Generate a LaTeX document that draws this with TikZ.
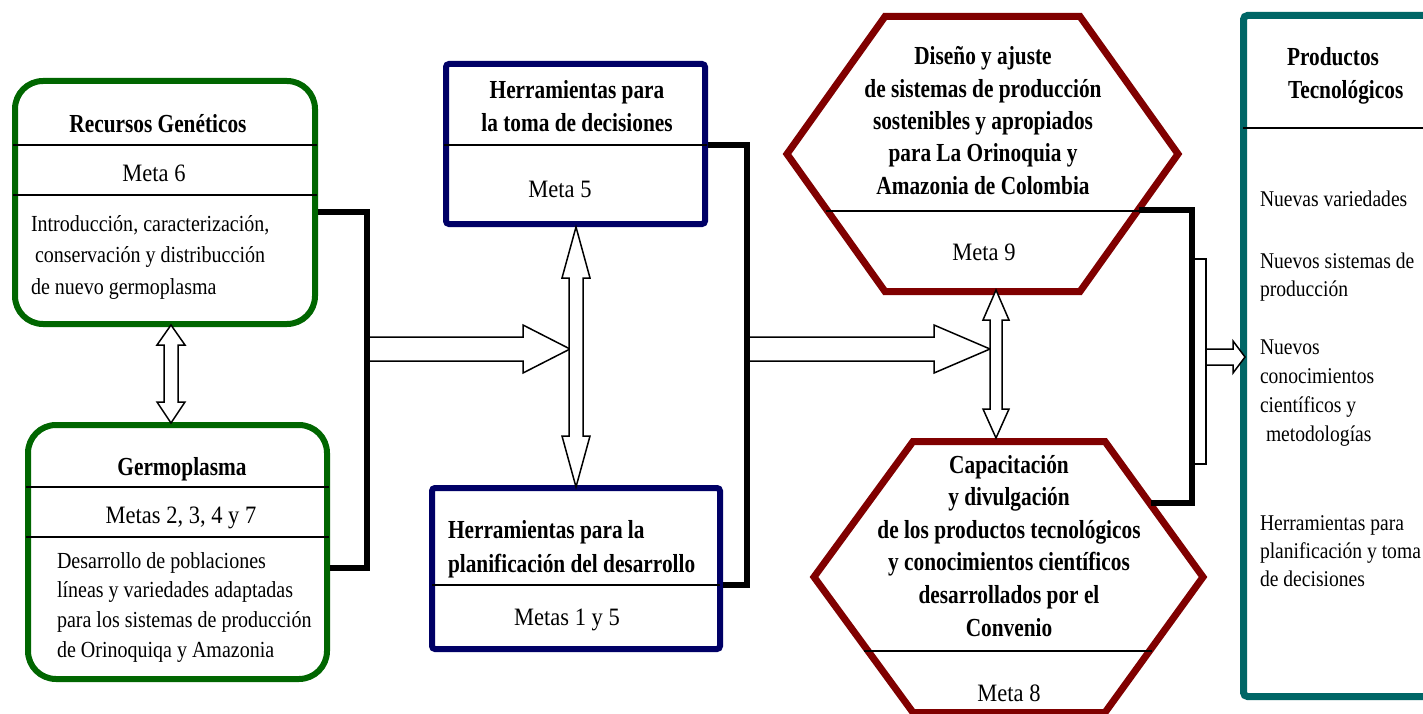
\documentclass[tikz,border=0pt]{standalone}
\usepackage{fontspec}
\setmainfont{Liberation Serif}
\newfontfamily\bodyff{Liberation Serif}[FakeStretch=0.87]
\newfontfamily\metaff{Liberation Serif}[FakeStretch=0.9]
\newfontfamily\titff{Liberation Serif}[FakeStretch=0.82]
\definecolor{boxgreen}{RGB}{0,102,0}
\definecolor{boxnavy}{RGB}{0,0,102}
\definecolor{boxred}{RGB}{128,0,0}
\definecolor{boxteal}{RGB}{0,102,102}
\newcommand{\cvl}[1]{\vtop{\halign{\hfil##\hfil\cr#1\crcr}}}
\newcommand{\lvl}[1]{\vtop{\halign{##\hfil\cr#1\crcr}}}
\tikzset{
  gbox/.style={draw=boxgreen, line width=6pt, rounded corners=28pt, inner sep=0pt},
  nbox/.style={draw=boxnavy, line width=6pt, rounded corners=3pt, inner sep=0pt},
  tbox/.style={draw=boxteal, line width=7pt, rounded corners=4pt, inner sep=0pt},
  hexline/.style={draw=boxred, line width=7pt, line join=miter},
  divider/.style={draw=black, line width=1.8pt},
  conn/.style={draw=black, line width=6.5pt, line join=miter},
  thinconn/.style={draw=black, line width=2pt},
  hollow/.style={draw=black, fill=white, line width=1.5pt, line join=miter},
  tit/.style={font=\titff\bfseries\fontsize{26}{32.5}\selectfont, inner sep=0pt, outer sep=0pt},
  meta/.style={font=\metaff\fontsize{25}{30}\selectfont, inner sep=0pt, outer sep=0pt},
  body/.style={font=\bodyff\fontsize{23}{31.5}\selectfont, inner sep=0pt, outer sep=0pt},
}
\begin{document}
\begin{tikzpicture}[x=1pt,y=-1pt]
\useasboundingbox (0,0) rectangle (1423,714);
\fill[white] (0,0) rectangle (1423,714);

% ---------- boxes ----------
\node[gbox, minimum width=300pt, minimum height=243pt] (rg) at (165,202.5) {};
\node[gbox, minimum width=299pt, minimum height=254pt] (gp) at (177.5,552) {};
\node[nbox, minimum width=259pt, minimum height=160pt] (ht) at (575.5,144) {};
\node[nbox, minimum width=288pt, minimum height=161pt] (hp) at (576,568.5) {};
\node[tbox, minimum width=206.5pt, minimum height=681pt] (pt) at (1346.75,356) {};

% hexagons
\draw[hexline] (787,154) -- (885,16.5) -- (1080,16.5) -- (1178,154) -- (1080,291.5) -- (885,291.5) -- cycle;
\draw[hexline] (814,577) -- (913,441.5) -- (1105,441.5) -- (1203,577) -- (1105,712.5) -- (913,712.5) -- cycle;

% ---------- dividers ----------
\draw[divider] (13,145) -- (317,145);
\draw[divider] (13,195) -- (317,195);
\draw[divider] (26,487) -- (329,487);
\draw[divider] (26,537) -- (329,537);
\draw[divider] (444,145) -- (707,145);
\draw[divider] (432,585) -- (720,585);
\draw[divider] (826,211) -- (1140,211);
\draw[divider] (864,651) -- (1152,651);
\draw[divider] (1243,128) -- (1423,128);

% ---------- hollow arrows ----------
\draw[hollow] (367,337) -- (523,337) -- (523,325) -- (570,349) -- (523,373) -- (523,361) -- (367,361) -- cycle;
\draw[hollow] (747,337) -- (934,337) -- (934,325) -- (990,349) -- (934,373) -- (934,361) -- (747,361) -- cycle;
\draw[hollow] (171,325) -- (185,345) -- (178,345) -- (178,402) -- (185,402) -- (171,423) -- (157,402) -- (164,402) -- (164,345) -- (157,345) -- cycle;
\draw[hollow] (576,227) -- (590,278) -- (583,278) -- (583,436) -- (590,436) -- (576,487) -- (562,436) -- (569,436) -- (569,278) -- (562,278) -- cycle;
\draw[hollow] (996,290) -- (1009,320) -- (1002,320) -- (1002,409) -- (1009,409) -- (996,438) -- (983,409) -- (990,409) -- (990,320) -- (983,320) -- cycle;
\draw[hollow] (1206,349) -- (1233,349) -- (1233,341) -- (1245,357) -- (1233,373) -- (1233,365) -- (1206,365) -- cycle;

% ---------- thick connectors ----------
\coordinate (j1a) at (367,212);
\coordinate (j1b) at (367,568);
\draw[conn] (rg.east |- j1a) -- (j1a) -- (j1b) -- (gp.east |- j1b);
\coordinate (j2a) at (747,145);
\coordinate (j2b) at (747,585);
\draw[conn] (ht.east |- j2a) -- (j2a) -- (j2b) -- (hp.east |- j2b);
\coordinate (h1r) at (1139,210);
\coordinate (h2r) at (1151,503);
\coordinate (j3a) at (1192,210);
\coordinate (j3b) at (1192,503);
\draw[conn] (h1r) -- (j3a) -- (j3b) -- (h2r);
\coordinate (br1) at (1192,259);
\coordinate (br2) at (1192,464);
\draw[thinconn] (br1) -- (1206,259) -- (1206,464) -- (br2);

% ---------- texts ----------
\node[tit, anchor=base] (t1) at (158,133) {Recursos Genéticos};
\node[meta, anchor=base] (m1) at (154,182) {Meta 6};
\node[body, anchor=base west] (b1) at (31,231) {\lvl{Introducción, caracterización,\cr\kern4pt conservación y distribucción\cr de nuevo germoplasma}};

\node[tit, anchor=base] (t2) at (182,475) {Germoplasma};
\node[meta, anchor=base] (m2) at (181,523) {Metas 2, 3, 4 y 7};
\node[body, font=\bodyff\fontsize{23}{29.7}\selectfont, anchor=base west] (b2) at (57,568) {\lvl{Desarrollo de poblaciones\cr líneas y variedades adaptadas\cr para los sistemas de producción\cr de Orinoquiqa y Amazonia}};

\node[tit, font=\titff\bfseries\fontsize{26}{33}\selectfont, anchor=base] (t3) at (577,99) {\cvl{Herramientas para\cr la toma de decisiones}};
\node[meta, anchor=base] (m3) at (560,197) {Meta 5};

\node[tit, font=\titff\bfseries\fontsize{26}{34}\selectfont, anchor=base west] (t4) at (448,538) {\lvl{Herramientas para la\cr planificación del desarrollo}};
\node[meta, anchor=base] (m4) at (567,625) {Metas 1 y 5};

\node[tit, font=\titff\bfseries\fontsize{26}{32.3}\selectfont, anchor=base] (t5) at (983,65) {\cvl{Diseño y ajuste\cr de sistemas de producción\cr sostenibles y apropiados\cr para La Orinoquia y\cr Amazonia de Colombia}};
\node[meta, anchor=base] (m5) at (984,260) {Meta 9};

\node[tit, font=\titff\bfseries\fontsize{26}{32.6}\selectfont, anchor=base] (t6) at (1009,473) {\cvl{Capacitación\cr y divulgación\cr de los productos tecnológicos\cr y conocimientos científicos\cr desarrollados por el\cr Convenio}};
\node[meta, anchor=base] (m6) at (1009,701) {Meta 8};

\node[tit, font=\titff\bfseries\fontsize{26}{33}\selectfont, anchor=base west] (t7) at (1287,66) {\lvl{Productos\cr\kern1pt Tecnológicos}};
\node[body, font=\bodyff\fontsize{22.5}{28}\selectfont, anchor=base west] (p1) at (1260,207) {Nuevas variedades};
\node[body, font=\bodyff\fontsize{22.5}{28}\selectfont, anchor=base west] (p2) at (1260,268) {\lvl{Nuevos sistemas de\cr producción}};
\node[body, font=\bodyff\fontsize{22.5}{29}\selectfont, anchor=base west] (p3) at (1260,354) {\lvl{Nuevos\cr conocimientos\cr científicos y\cr\kern6pt metodologías}};
\node[body, font=\bodyff\fontsize{22.5}{28}\selectfont, anchor=base west] (p4) at (1260,530) {\lvl{Herramientas para\cr planificación y toma\cr de decisiones}};
\end{tikzpicture}
\end{document}
